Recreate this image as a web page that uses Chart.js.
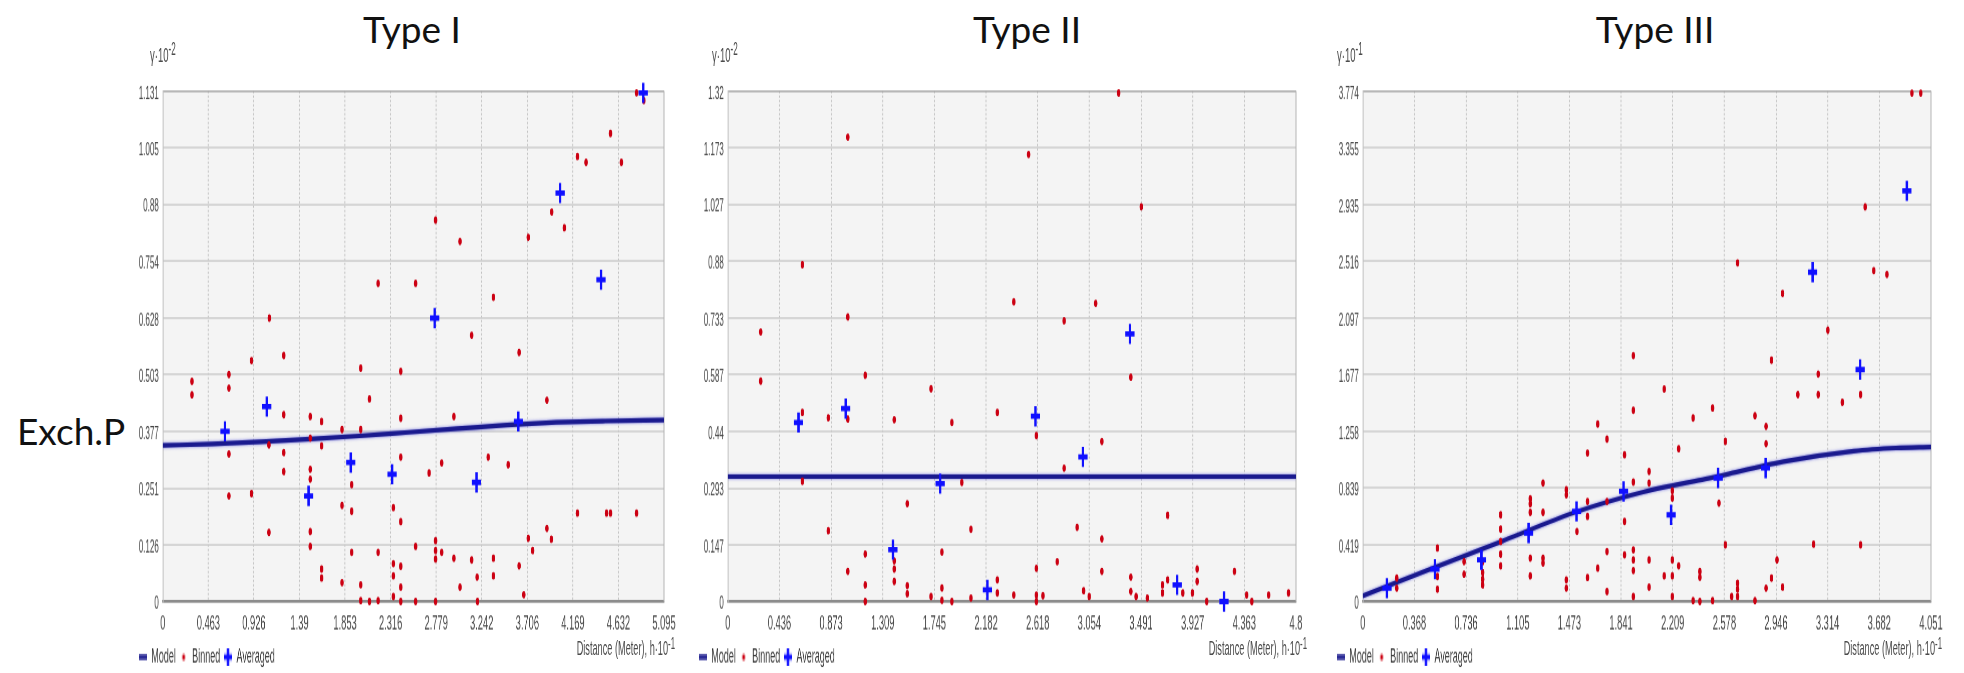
<!DOCTYPE html>
<html>
<head>
<meta charset="utf-8">
<script src="https://cdn.jsdelivr.net/npm/chart.js@4.4.0/dist/chart.umd.min.js"></script>
<style>
  html, body { margin: 0; padding: 0; background: #fff; overflow: hidden; }
  #page { position: relative; width: 1964px; height: 673px; overflow: hidden; background: #fff; }
  #page canvas { position: absolute; top: 0; }
  .title { position: absolute; font-family: Lato, "Noto Sans", sans-serif; font-size: 37px; line-height: 36px; color: #111; white-space: nowrap; }
  .unit { position: absolute; font-family: "Liberation Sans", Arial, sans-serif; color: #4c4c4c; white-space: nowrap; line-height: 1; }
  .unit sup { font-size: 0.85em; vertical-align: 0.35em; line-height: 0; }
</style>
</head>
<body>
<div id="page">
  <div class="title" style="left:412px; top:11px; transform:translateX(-50%)">Type I</div>
  <div class="title" style="left:1027px; top:11px; transform:translateX(-50%)">Type II</div>
  <div class="title" style="left:1655px; top:11px; transform:translateX(-50%)">Type III</div>
  <div class="title" style="left:17px; top:413px">Exch.P</div>
</div>
<script>
// each variogram panel is drawn short and stretched vertically, like the exported GIS plots
const S = 2.2;
const H_LOGICAL = 313;
const RIGHT_PAD = 14;
const LEGEND_PAD = 3.75;

const NAVY = '#1a1a8e';
const RED = '#cc0012';
const BLUE = '#1010ff';
const TICK_COLOR = '#464646';
const FONT = '"Liberation Sans", Arial, sans-serif';

// ---- Type I ----
const xTicksI = ['0', '0.463', '0.926', '1.39', '1.853', '2.316', '2.779', '3.242', '3.706', '4.169', '4.632', '5.095'];
const yTicksI = ['0', '0.126', '0.251', '0.377', '0.503', '0.628', '0.754', '0.88', '1.005', '1.131'];
const binnedI = [
  [4.816, 1.127], [4.89, 1.11], [4.551, 1.037], [4.215, 0.986], [4.303, 0.973], [4.662, 0.973],
  [3.954, 0.863], [4.082, 0.828], [3.715, 0.807], [2.773, 0.845], [3.021, 0.798], [2.189, 0.705],
  [2.570, 0.705], [3.361, 0.674], [1.083, 0.628], [3.140, 0.590], [3.622, 0.552], [1.230, 0.545],
  [0.902, 0.534], [0.296, 0.488], [0.296, 0.458], [0.672, 0.503], [0.672, 0.473], [2.012, 0.517],
  [2.419, 0.510], [2.101, 0.449], [3.905, 0.446], [1.230, 0.414], [1.499, 0.410], [1.614, 0.399],
  [2.419, 0.406], [2.959, 0.410], [1.822, 0.381], [2.012, 0.381], [1.499, 0.362], [1.079, 0.347],
  [1.614, 0.345], [0.672, 0.327], [1.230, 0.330], [2.419, 0.320], [3.308, 0.320], [2.835, 0.307],
  [3.511, 0.303], [1.230, 0.288], [1.499, 0.293], [2.707, 0.285], [1.499, 0.271], [1.920, 0.259],
  [0.672, 0.234], [0.902, 0.239], [1.822, 0.213], [2.344, 0.208], [1.920, 0.200], [4.215, 0.196],
  [4.511, 0.196], [4.551, 0.196], [4.816, 0.196], [2.419, 0.177], [3.905, 0.162], [1.079, 0.153],
  [3.715, 0.140], [3.950, 0.138], [1.499, 0.155], [1.499, 0.122], [2.773, 0.135], [2.570, 0.122],
  [3.760, 0.113], [2.189, 0.109], [1.920, 0.109], [2.773, 0.113], [2.835, 0.109], [2.773, 0.094],
  [2.959, 0.096], [3.140, 0.092], [3.361, 0.096], [2.344, 0.084], [2.419, 0.078], [3.622, 0.079],
  [1.614, 0.072], [1.614, 0.052], [2.344, 0.057], [3.195, 0.054], [3.361, 0.057], [1.822, 0.042],
  [2.012, 0.037], [2.419, 0.032], [3.021, 0.032], [3.670, 0.015], [2.344, 0.011], [2.012, 0.002],
  [2.101, 0.000], [2.189, 0.002], [2.419, 0.000], [2.570, 0.000], [2.773, 0.000], [3.199, 0.000]
];
const averagedI = [
  [0.632, 0.377], [1.057, 0.432], [1.482, 0.234], [1.911, 0.308], [2.331, 0.282], [2.764, 0.628],
  [3.189, 0.264], [3.614, 0.399], [4.039, 0.905], [4.455, 0.713], [4.884, 1.127]
];
const modelI = [
  [0, 0.346], [0.5, 0.349], [1.0, 0.354], [1.5, 0.360], [2.0, 0.367], [2.5, 0.375],
  [3.0, 0.383], [3.5, 0.391], [4.0, 0.397], [4.5, 0.400], [5.095, 0.402]
];

// ---- Type II ----
const xTicksII = ['0', '0.436', '0.873', '1.309', '1.745', '2.182', '2.618', '3.054', '3.491', '3.927', '4.363', '4.8'];
const yTicksII = ['0', '0.147', '0.293', '0.44', '0.587', '0.733', '0.88', '1.027', '1.173', '1.32'];
const binnedII = [
  [3.302, 1.315], [1.014, 1.201], [2.541, 1.156], [3.493, 1.021], [0.630, 0.871], [2.416, 0.775],
  [3.108, 0.771], [1.014, 0.736], [2.841, 0.726], [0.278, 0.697], [0.278, 0.570], [1.161, 0.585],
  [3.405, 0.580], [1.717, 0.550], [0.630, 0.489], [0.849, 0.475], [1.014, 0.472], [1.406, 0.470],
  [1.893, 0.463], [2.277, 0.489], [2.607, 0.429], [3.160, 0.414], [2.841, 0.345], [0.630, 0.311],
  [1.977, 0.308], [1.516, 0.253], [3.716, 0.223], [0.849, 0.183], [2.054, 0.187], [2.951, 0.192],
  [3.160, 0.162], [1.161, 0.123], [1.809, 0.128], [1.406, 0.105], [2.783, 0.103], [1.014, 0.078],
  [1.406, 0.084], [2.607, 0.086], [3.160, 0.078], [3.965, 0.084], [4.280, 0.078], [3.405, 0.063],
  [1.406, 0.052], [2.277, 0.056], [3.716, 0.056], [3.965, 0.052], [1.161, 0.043], [1.516, 0.041],
  [3.672, 0.043], [1.809, 0.035], [3.006, 0.028], [3.405, 0.026], [1.516, 0.020], [2.277, 0.022],
  [2.416, 0.017], [2.607, 0.017], [2.662, 0.015], [3.672, 0.022], [3.844, 0.022], [3.925, 0.022],
  [4.737, 0.022], [4.569, 0.017], [4.383, 0.017], [1.717, 0.013], [2.054, 0.009], [3.053, 0.013],
  [3.449, 0.013], [3.544, 0.009], [1.161, 0.000], [1.809, 0.003], [1.893, 0.000], [2.607, 0.000],
  [4.046, 0.000], [4.427, 0.000]
];
const averagedII = [
  [0.597, 0.463], [0.996, 0.499], [1.395, 0.134], [1.794, 0.305], [2.193, 0.030],
  [2.599, 0.479], [3.000, 0.374], [3.397, 0.692], [3.796, 0.043], [4.192, 0.000]
];
const modelII = [[0, 0.323], [4.8, 0.323]];

// ---- Type III ----
const xTicksIII = ['0', '0.368', '0.736', '1.105', '1.473', '1.841', '2.209', '2.578', '2.946', '3.314', '3.682', '4.051'];
const yTicksIII = ['0', '0.419', '0.839', '1.258', '1.677', '2.097', '2.516', '2.935', '3.355', '3.774'];
const binnedIII = [
  [3.915, 3.759], [3.978, 3.759], [3.582, 2.918], [2.672, 2.504], [3.643, 2.447], [3.737, 2.418],
  [2.993, 2.278], [3.316, 2.006], [1.929, 1.818], [2.914, 1.784], [3.247, 1.682], [2.149, 1.571],
  [3.102, 1.530], [3.247, 1.530], [3.549, 1.530], [3.419, 1.473], [2.494, 1.431], [1.929, 1.414],
  [2.355, 1.357], [2.796, 1.374], [1.675, 1.312], [2.875, 1.295], [1.741, 1.201], [2.585, 1.184],
  [2.875, 1.167], [2.252, 1.130], [1.602, 1.098], [1.866, 1.085], [2.041, 0.962], [2.041, 0.876],
  [1.929, 0.883], [1.285, 0.876], [1.451, 0.826], [1.451, 0.789], [2.207, 0.819], [2.207, 0.765],
  [1.194, 0.760], [1.194, 0.723], [1.602, 0.740], [1.741, 0.740], [2.539, 0.728], [1.194, 0.659],
  [1.285, 0.659], [1.602, 0.629], [0.983, 0.641], [1.866, 0.592], [1.527, 0.518], [0.983, 0.535],
  [0.983, 0.444], [2.585, 0.419], [3.214, 0.424], [3.549, 0.419], [0.532, 0.395], [1.741, 0.370],
  [1.929, 0.382], [0.983, 0.350], [1.866, 0.345], [1.194, 0.321], [1.285, 0.321], [2.041, 0.308],
  [2.207, 0.308], [2.953, 0.308], [1.929, 0.308], [1.285, 0.284], [0.722, 0.296], [0.855, 0.296],
  [2.252, 0.264], [0.983, 0.264], [0.722, 0.202], [0.855, 0.215], [1.675, 0.247], [1.929, 0.229],
  [2.403, 0.222], [0.532, 0.185], [1.194, 0.190], [1.602, 0.178], [2.149, 0.190], [2.207, 0.190],
  [2.403, 0.180], [2.914, 0.173], [0.855, 0.165], [0.242, 0.173], [1.451, 0.160], [0.855, 0.123],
  [2.672, 0.136], [2.041, 0.106], [0.242, 0.099], [0.532, 0.091], [1.451, 0.099], [2.875, 0.099],
  [2.993, 0.106], [2.672, 0.091], [1.741, 0.074], [2.630, 0.037], [2.672, 0.037], [1.929, 0.037],
  [2.207, 0.037], [2.355, 0.007], [2.403, 0.000], [2.494, 0.007], [2.796, 0.007]
];
const averagedIII = [
  [0.172, 0.099], [0.514, 0.239], [0.846, 0.308], [1.182, 0.506], [1.524, 0.666], [1.859, 0.814],
  [2.198, 0.641], [2.533, 0.913], [2.872, 0.987], [3.207, 2.435], [3.546, 1.715], [3.879, 3.036]
];
const modelIII = [
  [0, 0.042], [0.5, 0.247], [1.0, 0.449], [1.5, 0.655], [2.0, 0.810], [2.5, 0.918],
  [3.0, 1.035], [3.5, 1.112], [3.8, 1.135], [4.051, 1.142]
];

const panels = [
  { plotLeft: 163, plotRight: 664, legendX: 139, unitY: 'γ·10', unitYExp: '-2', unitYLeft: 150,
    xTicks: xTicksI, yTicks: yTicksI, binned: binnedI, averaged: averagedI, model: modelI },
  { plotLeft: 728, plotRight: 1296, legendX: 699, unitY: 'γ·10', unitYExp: '-2', unitYLeft: 712,
    xTicks: xTicksII, yTicks: yTicksII, binned: binnedII, averaged: averagedII, model: modelII },
  { plotLeft: 1363, plotRight: 1931, legendX: 1337, unitY: 'γ·10', unitYExp: '-1', unitYLeft: 1337,
    xTicks: xTicksIII, yTicks: yTicksIII, binned: binnedIII, averaged: averagedIII, model: modelIII }
];

const toPoints = arr => arr.map(([x, y]) => ({ x, y }));

function icon(w, h, draw) {
  const c = document.createElement('canvas');
  c.width = w;
  c.height = h;
  draw(c.getContext('2d'));
  return c;
}

const modelIcon = icon(8, 3, g => { g.fillStyle = NAVY; g.fillRect(0, 0.3, 8, 2.4); });
const binnedIcon = icon(4, 4, g => {
  g.fillStyle = RED; g.beginPath(); g.arc(2, 2, 1.5, 0, Math.PI * 2); g.fill();
});
const averagedIcon = icon(8, 8, g => {
  g.strokeStyle = BLUE; g.lineWidth = 2.4; g.beginPath();
  g.moveTo(4, 0); g.lineTo(4, 8); g.moveTo(0, 4); g.lineTo(8, 4); g.stroke();
});

// light grey plot area with a solid right edge
const plotFrame = {
  id: 'plotFrame',
  beforeDraw(chart) {
    const { ctx, chartArea: a } = chart;
    ctx.save();
    ctx.fillStyle = '#f4f4f4';
    ctx.fillRect(a.left, a.top, a.right - a.left, a.bottom - a.top);
    ctx.restore();
  },
  beforeDatasetsDraw(chart) {
    const { ctx, chartArea: a } = chart;
    ctx.save();
    ctx.strokeStyle = '#b4b4b4';
    ctx.lineWidth = 1;
    ctx.beginPath();
    ctx.moveTo(a.right, a.top);
    ctx.lineTo(a.right, a.bottom);
    ctx.stroke();
    ctx.restore();
  },
  // soft glow around the model curve
  beforeDatasetDraw(chart, args) {
    if (args.index !== 2) return;
    const ctx = chart.ctx;
    ctx.save();
    ctx.shadowColor = 'rgba(70, 70, 220, 0.75)';
    ctx.shadowBlur = 3;
  },
  afterDatasetDraw(chart, args) {
    if (args.index !== 2) return;
    chart.ctx.restore();
  }
};

const page = document.getElementById('page');

panels.forEach(p => {
  const left = p.legendX - LEGEND_PAD;
  const w = p.plotRight + RIGHT_PAD - left;
  const canvas = document.createElement('canvas');
  canvas.width = w;
  canvas.height = H_LOGICAL;
  canvas.style.left = left + 'px';
  canvas.style.width = w + 'px';
  canvas.style.height = (H_LOGICAL * S) + 'px';
  page.appendChild(canvas);

  const xVals = p.xTicks.map(Number);
  const yVals = p.yTicks.map(Number);
  const xMax = xVals[xVals.length - 1];
  const yMax = yVals[yVals.length - 1];

  new Chart(canvas, {
    type: 'scatter',
    data: {
      datasets: [
        {
          label: 'Averaged', data: toPoints(p.averaged), pointStyle: 'cross',
          pointRadius: 4.6, pointBorderWidth: 2.4, pointBorderColor: BLUE, pointBackgroundColor: BLUE, clip: false
        },
        {
          label: 'Binned', data: toPoints(p.binned), pointStyle: 'circle',
          pointRadius: 1.7, pointBorderWidth: 0, pointBackgroundColor: RED, clip: false
        },
        {
          label: 'Model', data: toPoints(p.model), showLine: true, pointRadius: 0,
          borderColor: NAVY, borderWidth: 2.1, cubicInterpolationMode: 'monotone'
        }
      ]
    },
    options: {
      responsive: false,
      animation: false,
      devicePixelRatio: 2,
      events: [],
      layout: { padding: { top: 91 / S, right: RIGHT_PAD, bottom: 0, left: 0 } },
      plugins: {
        tooltip: { enabled: false },
        legend: {
          position: 'bottom',
          align: 'start',
          labels: {
            usePointStyle: true,
            pointStyleWidth: 8,
            padding: LEGEND_PAD,
            font: { family: FONT, size: 9 },
            color: '#3a3a3a',
            generateLabels: () => [
              { text: 'Model', pointStyle: modelIcon, fontColor: '#3a3a3a', lineWidth: 0, hidden: false, datasetIndex: 2 },
              { text: 'Binned', pointStyle: binnedIcon, fontColor: '#3a3a3a', lineWidth: 0, hidden: false, datasetIndex: 1 },
              { text: 'Averaged', pointStyle: averagedIcon, fontColor: '#3a3a3a', lineWidth: 0, hidden: false, datasetIndex: 0 }
            ]
          }
        }
      },
      scales: {
        x: {
          type: 'linear', min: 0, max: xMax,
          afterBuildTicks: s => { s.ticks = xVals.map(v => ({ value: v })); },
          afterFit: s => { s.height = 17; s.paddingLeft = 0; s.paddingRight = 0; },
          ticks: {
            autoSkip: false, maxRotation: 0, padding: 4.5, color: TICK_COLOR,
            font: { family: FONT, size: 9.3 },
            callback: (v, i) => p.xTicks[i]
          },
          grid: { color: '#c2c2c2', lineWidth: 1, drawTicks: false },
          border: { display: true, color: '#8c8c8c', width: 1.3, dash: [1, 1] }
        },
        y: {
          type: 'linear', min: 0, max: yMax,
          afterBuildTicks: s => { s.ticks = yVals.map(v => ({ value: v })); },
          afterFit: s => { s.width = p.plotLeft - left; s.paddingTop = 0; s.paddingBottom = 0; },
          ticks: {
            autoSkip: false, padding: 4, labelOffset: 1.2, color: TICK_COLOR,
            font: { family: FONT, size: 8 },
            callback: (v, i) => p.yTicks[i]
          },
          grid: {
            color: c => (c.tick && c.tick.value === yMax ? '#a2a2a2' : '#cbcbcb'),
            lineWidth: 0.85, drawTicks: false
          },
          border: { display: true, color: '#c2c2c2', width: 1 }
        }
      }
    },
    plugins: [plotFrame]
  });

  // axis unit captions, stretched like the panel
  const yUnit = document.createElement('div');
  yUnit.className = 'unit';
  yUnit.style.left = p.unitYLeft + 'px';
  yUnit.style.top = '44px';
  yUnit.style.fontSize = '9.5px';
  yUnit.style.transformOrigin = '0 0';
  yUnit.style.transform = `scale(1, ${S})`;
  yUnit.innerHTML = `${p.unitY}<sup>${p.unitYExp}</sup>`;
  page.appendChild(yUnit);

  const xUnit = document.createElement('div');
  xUnit.className = 'unit';
  xUnit.style.right = (1964 - (p.plotRight + 11)) + 'px';
  xUnit.style.top = '640px';
  xUnit.style.fontSize = '9.2px';
  xUnit.style.transformOrigin = '100% 0';
  xUnit.style.transform = `scale(1, ${S})`;
  xUnit.innerHTML = 'Distance (Meter), h·10<sup>-1</sup>';
  page.appendChild(xUnit);
});
</script>
</body>
</html>
